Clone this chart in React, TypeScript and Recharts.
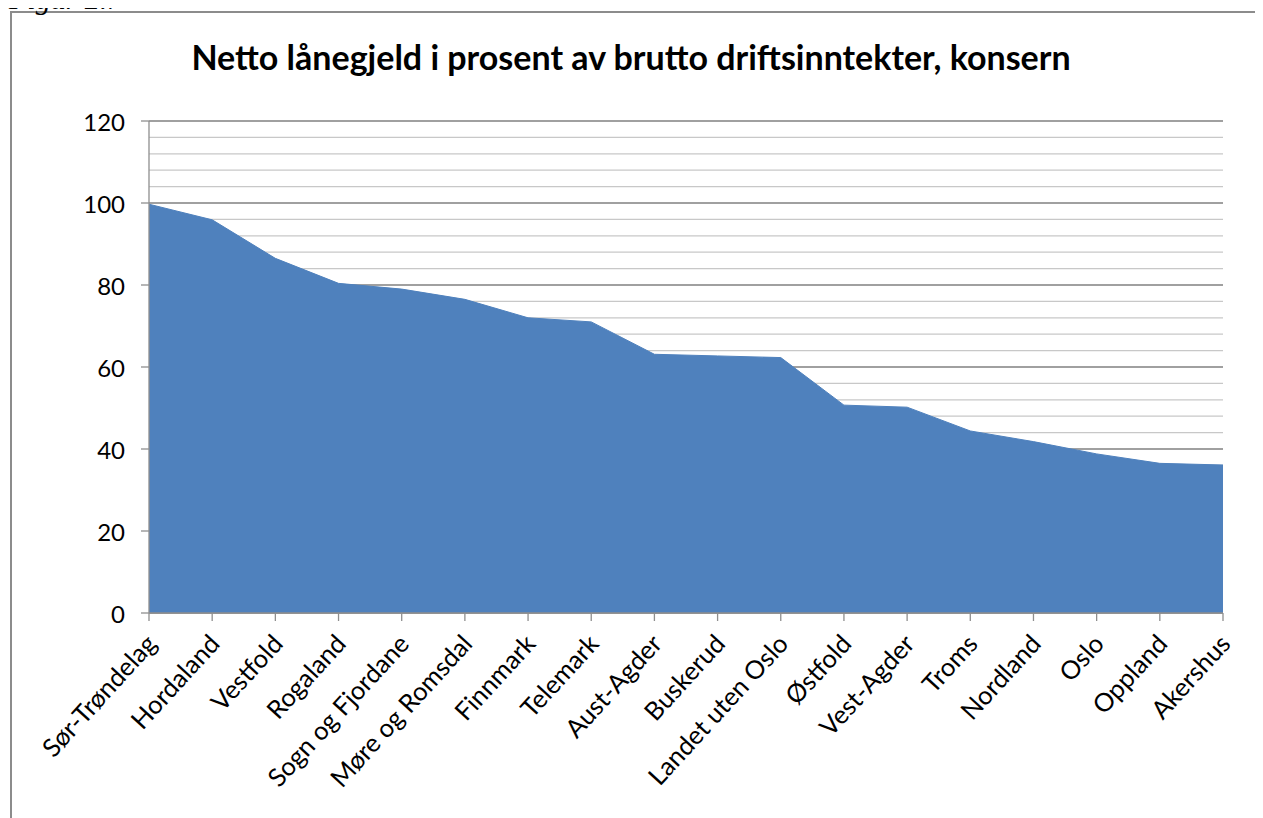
import React from "react";
import { AreaChart, Area, XAxis, YAxis, CartesianGrid } from "recharts";

const categories = [
  "Sør-Trøndelag", "Hordaland", "Vestfold", "Rogaland", "Sogn og Fjordane",
  "Møre og Romsdal", "Finnmark", "Telemark", "Aust-Agder", "Buskerud",
  "Landet uten Oslo", "Østfold", "Vest-Agder", "Troms", "Nordland",
  "Oslo", "Oppland", "Akershus",
];
const values = [
  99.7, 95.9, 86.5, 80.4, 79.0, 76.5, 72.0, 71.0, 63.1, 62.7,
  62.3, 50.7, 50.2, 44.4, 41.8, 38.8, 36.5, 36.1,
];
const majorTicks = [0, 20, 40, 60, 80, 100, 120];
const minorTicks = [
  0, 4, 8, 12, 16, 20, 24, 28, 32, 36, 40, 44, 48, 52, 56, 60,
  64, 68, 72, 76, 80, 84, 88, 92, 96, 100, 104, 108, 112, 116, 120,
];
const title = "Netto lånegjeld i prosent av brutto driftsinntekter, konsern";
const caption = "Figur 2.7";

const data = categories.map((name, i) => ({ name, value: values[i] }));

const FONT = "Lato, 'Open Sans', sans-serif";

const XTick = (props: any) => {
  const { x, y, payload } = props;
  return (
    <g transform={`translate(${x + 9},${y + 22})`}>
      <text
        transform="rotate(-47.5)"
        textAnchor="end"
        fontSize={25.5}
        fontFamily={FONT}
        fill="#000"
      >
        {payload.value}
      </text>
    </g>
  );
};

const YTick = (props: any) => {
  const { x, y, payload } = props;
  return (
    <text
      x={x - 14}
      y={y}
      textAnchor="end"
      dominantBaseline="central"
      fontSize={24}
      fontFamily={FONT}
      fill="#000"
    >
      {payload.value}
    </text>
  );
};

const minorGen = (p: any) => {
  const yAxis = p && p.yAxis;
  if (yAxis && typeof yAxis.scale === "function") {
    return minorTicks.map((v) => yAxis.scale(v));
  }
  const off = p.offset;
  return minorTicks.map((v) => off.top + off.height * (1 - v / 120));
};

export default function App() {
  return (
    <div
      style={{
        position: "relative",
        width: 1263,
        height: 818,
        marginLeft: -8,
        marginTop: -8,
        overflow: "hidden",
        background: "#fff",
      }}
    >
      <div
        style={{
          position: "absolute",
          left: 10,
          top: 11,
          width: 1252,
          height: 900,
          border: "2px solid #8c8c8c",
          boxSizing: "border-box",
        }}
      />
      <svg
        width={1263}
        height={100}
        style={{ position: "absolute", left: 0, top: 0 }}
      >
        <text
          x={9}
          y={9}
          fontFamily="'Liberation Serif', 'Times New Roman', serif"
          fontStyle="italic"
          fontSize={30}
          fill="#000"
        >
          {caption}
        </text>
        <text
          x={631}
          y={70}
          textAnchor="middle"
          fontFamily={FONT}
          fontWeight={700}
          fontSize={34}
          fill="#000"
        >
          {title}
        </text>
      </svg>
      <div style={{ position: "absolute", left: 0, top: 0 }}>
        <AreaChart
          width={1263}
          height={818}
          data={data}
          margin={{ top: 121, right: 40, bottom: 55, left: 89 }}
        >
          <CartesianGrid
            vertical={false}
            stroke="#c8c8c8"
            strokeWidth={1.3}
            horizontalCoordinatesGenerator={minorGen}
          />
          <CartesianGrid
            vertical={false}
            stroke="#8e8e8e"
            strokeWidth={1.3}
          />
          <XAxis
            dataKey="name"
            interval={0}
            height={150}
            tick={<XTick />}
            tickSize={8}
            axisLine={{ stroke: "#8e8e8e", strokeWidth: 1.3 }}
            tickLine={{ stroke: "#8e8e8e", strokeWidth: 1.3 }}
          />
          <YAxis
            domain={[0, 120]}
            ticks={majorTicks}
            width={60}
            tickSize={8}
            interval={0}
            tick={<YTick />}
            axisLine={{ stroke: "#8e8e8e", strokeWidth: 1.3 }}
            tickLine={{ stroke: "#8e8e8e", strokeWidth: 1.3 }}
          />
          <Area
            type="linear"
            dataKey="value"
            fill="#4F81BD"
            fillOpacity={1}
            stroke="#4F81BD"
            strokeWidth={1}
            isAnimationActive={false}
          />
        </AreaChart>
      </div>
    </div>
  );
}
